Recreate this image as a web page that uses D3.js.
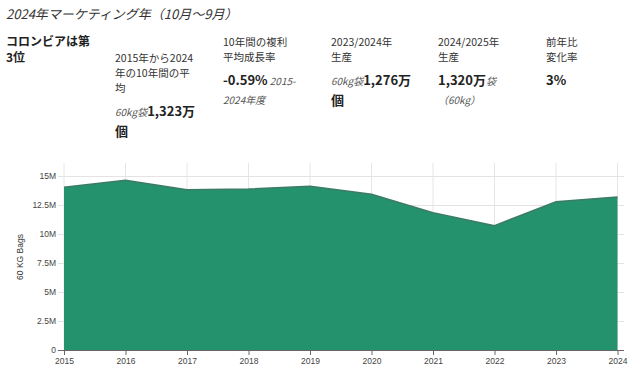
<!DOCTYPE html>
<html>
<head>
<meta charset="utf-8">
<script src="https://cdn.jsdelivr.net/npm/d3@7"></script>
<style>
  body { margin: 0; background: #fff; font-family: "Noto Sans CJK JP", "Noto Sans", sans-serif; color: #222; }
  #wrap { position: relative; width: 640px; height: 373px; overflow: hidden; }
  .blk { position: absolute; font-size: 10.5px; line-height: 15px; color: #333; white-space: nowrap; }
  .blk .num { font-weight: bold; font-size: 13px; color: #222; }
  .blk .unit { font-style: italic; font-size: 10px; color: #555; }
  svg text { font-family: "Liberation Sans", Arial, sans-serif; }
</style>
</head>
<body>
<div id="wrap"></div>
<script>
  // production, 60kg bags
  const years = [2015, 2016, 2017, 2018, 2019, 2020, 2021, 2022, 2023, 2024];
  const bags = [14030000, 14630000, 13820000, 13880000, 14110000, 13420000, 11840000, 10720000, 12780000, 13190000];
  const yTicks = [0, 2500000, 5000000, 7500000, 10000000, 12500000, 15000000];
  const yTickLabels = ["0", "2.5M", "5M", "7.5M", "10M", "12.5M", "15M"];

  const title = "2024年マーケティング年（10月〜9月）";
  const rankLines = ["コロンビアは第", "3位"];
  const stats = [
    { x: 115, y: 49.5, label: ["2015年から2024", "年の10年間の平", "均"], pre: "60kg袋", num: "1,323万", post: "", tail: "個", tailBold: true },
    { x: 223, y: 34.2, label: ["10年間の複利", "平均成長率"], pre: "", num: "-0.59%", post: " 2015-", tail: "2024年度", tailBold: false },
    { x: 331, y: 34.2, label: ["2023/2024年", "生産"], pre: "60kg袋", num: "1,276万", post: "", tail: "個", tailBold: true },
    { x: 438, y: 34.2, label: ["2024/2025年", "生産"], pre: "", num: "1,320万", post: "袋", tail: "（60kg）", tailBold: false },
    { x: 546, y: 34.2, label: ["前年比", "変化率"], pre: "", num: "3%", post: "", tail: "", tailBold: false }
  ];

  const wrap = d3.select("#wrap");

  wrap.append("div")
    .style("position", "absolute").style("left", "6px").style("top", "4px")
    .style("font-size", "13px").style("font-style", "italic").style("color", "#333")
    .text(title);

  wrap.append("div")
    .style("position", "absolute").style("left", "6px").style("top", "33px")
    .style("font-size", "12px").style("line-height", "16px")
    .style("font-weight", "bold").style("color", "#222")
    .selectAll("div")
    .data(rankLines)
    .enter()
    .append("div")
    .text(d => d);

  const blk = wrap.selectAll("div.blk")
    .data(stats)
    .enter()
    .append("div")
    .attr("class", "blk")
    .style("left", d => d.x + "px")
    .style("top", d => d.y + "px");

  blk.each(function(d) {
    const b = d3.select(this);
    b.selectAll("div.lab")
      .data(d.label)
      .enter()
      .append("div")
      .attr("class", "lab")
      .text(t => t);
    const val = b.append("div").style("margin-top", "6px").style("line-height", "19px");
    val.append("span").attr("class", "unit").text(d.pre);
    val.append("span").attr("class", "num").text(d.num);
    val.append("span").attr("class", "unit").text(d.post);
    b.append("div")
      .style("line-height", "19px")
      .attr("class", d.tailBold ? "num" : "unit")
      .text(d.tail);
  });

  // chart
  const w = 640;
  const h = 373;
  const mLeft = 64, mRight = 617.5, gridRight = 624;
  const mTop = 176, mBottom = 350;

  const svg = wrap.append("svg")
    .style("position", "absolute").style("left", 0).style("top", 0)
    .attr("width", w)
    .attr("height", h);

  const xScale = d3.scaleLinear()
    .domain([2015, 2024])
    .range([mLeft, mRight]);

  const yScale = d3.scaleLinear()
    .domain([0, 15000000])
    .range([mBottom, mTop]);

  // vertical grid
  svg.append("g")
    .selectAll("line")
    .data(years)
    .enter()
    .append("line")
    .attr("x1", d => xScale(d)).attr("x2", d => xScale(d))
    .attr("y1", 163).attr("y2", mBottom)
    .attr("stroke", "#e6e6e6").attr("stroke-width", 1);

  // horizontal grid + y labels
  const yAxis = d3.axisLeft(yScale)
    .tickValues(yTicks)
    .tickFormat((d, i) => yTickLabels[i])
    .tickSize(-(gridRight - mLeft))
    .tickPadding(8);

  const gy = svg.append("g")
    .attr("transform", "translate(" + mLeft + ",0)")
    .call(yAxis);
  gy.select(".domain").remove();
  gy.selectAll(".tick line")
    .attr("x1", -6)
    .attr("stroke", "#e3e3e3");
  gy.selectAll(".tick text")
    .attr("font-size", "8.5px").attr("fill", "#444");

  const area = d3.area()
    .x((d, i) => xScale(years[i]))
    .y0(yScale(0))
    .y1(d => yScale(d));

  svg.append("path")
    .datum(bags)
    .attr("d", area)
    .attr("fill", "#24936d");

  const line = d3.line()
    .x((d, i) => xScale(years[i]))
    .y(d => yScale(d));

  svg.append("path")
    .datum(bags)
    .attr("d", line)
    .attr("fill", "none")
    .attr("stroke", "#3d7a68")
    .attr("stroke-width", 1.5);

  const xAxis = d3.axisBottom(xScale)
    .tickValues(years)
    .tickFormat(d3.format("d"))
    .tickSize(5)
    .tickPadding(3);

  const gx = svg.append("g")
    .attr("transform", "translate(0," + mBottom + ")")
    .call(xAxis);
  gx.select(".domain")
    .attr("d", "M" + (mLeft - 6) + ",0.5H" + gridRight)
    .attr("stroke", "#666");
  gx.selectAll(".tick line").attr("stroke", "#666");
  gx.selectAll(".tick text")
    .attr("font-size", "8.5px").attr("fill", "#444");

  svg.append("text")
    .attr("transform", "translate(23,257) rotate(-90)")
    .attr("text-anchor", "middle")
    .attr("font-size", "8.5px")
    .attr("fill", "#333")
    .text("60 KG Bags");
</script>
</body>
</html>
